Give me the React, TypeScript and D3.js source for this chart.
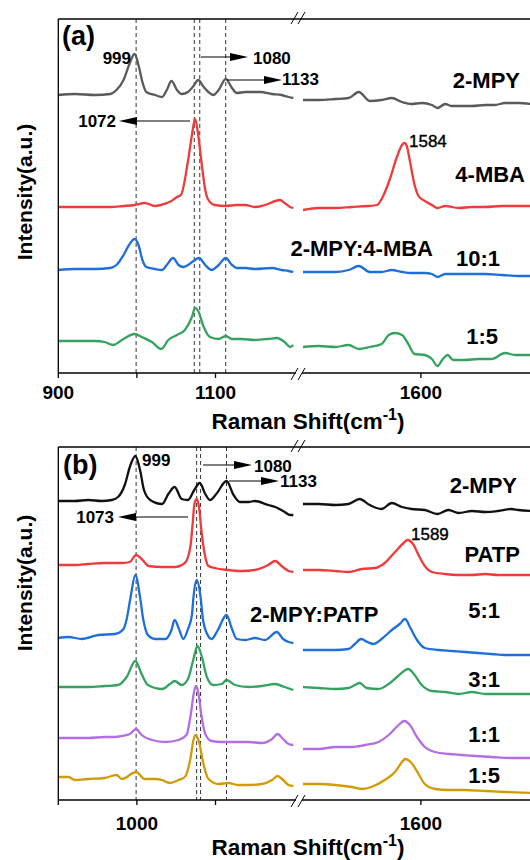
import React from 'react';
import * as d3 from 'd3';

type Pt = [number, number];

// ---------- axis ----------
const tickVals = [900, 1000, 1100, 1600];
const tickLabelsA = ['900', '', '1100', '1600'];
const tickLabelsB = ['', '1000', '', '1600'];

// ---------- panel (a) ----------
const a_mpy_L: Pt[] = [[900,0],[921,1],[947,0],[966,1],[974,5],[983,15],[990,30],[997,41],[1002,30],[1007,13],[1012,3],[1023,0],[1032,-2],[1038,5],[1044,14],[1051,5],[1057,1],[1065,3],[1072,9],[1078,15],[1085,8],[1091,3],[1097,0],[1104,5],[1113,16],[1121,7],[1127,2],[1138,3],[1150,3],[1157,3],[1172,1],[1184,0],[1193,-2],[1199,-3]];
const a_mpy_R: Pt[] = [[1450,-5],[1470,-5],[1491,-4],[1508,-3],[1521,3],[1535,-6],[1550,-5],[1563,-3],[1576,-7],[1588,-9],[1601,-8],[1614,-10],[1621,-13],[1631,-9],[1639,-11],[1652,-11],[1665,-11],[1682,-10],[1694,-10],[1707,-8],[1724,-8],[1740,-9]];
const a_mba_L: Pt[] = [[900,0],[921,0],[947,0],[966,0],[983,1],[997,2],[1010,4],[1023,1],[1038,4],[1044,6],[1051,10],[1056,12],[1065,46],[1070,72],[1074,88],[1078,72],[1082,46],[1087,17],[1091,7],[1099,2],[1113,1],[1127,2],[1138,2],[1150,0],[1163,2],[1182,7],[1188,4],[1195,0],[1199,-1]];
const a_mba_R: Pt[] = [[1450,-3],[1470,-1],[1491,-1],[1512,0],[1533,1],[1544,2],[1552,11],[1561,29],[1569,49],[1576,62],[1579,64],[1582,61],[1586,46],[1592,22],[1597,11],[1605,6],[1614,2],[1621,-1],[1631,1],[1648,-1],[1665,0],[1682,0],[1703,1],[1724,1],[1740,1]];
const a_101_L: Pt[] = [[900,0],[921,1],[947,1],[966,2],[974,5],[983,15],[990,25],[997,31],[1002,25],[1007,10],[1012,3],[1023,1],[1032,0],[1038,5],[1046,12],[1053,5],[1059,3],[1065,5],[1072,9],[1079,12],[1087,5],[1095,0],[1104,5],[1113,12],[1121,5],[1127,2],[1138,2],[1150,1],[1172,2],[1184,0],[1193,-1],[1199,-2]];
const a_101_R: Pt[] = [[1450,-2],[1470,-2],[1491,-2],[1508,0],[1521,4],[1535,-2],[1550,-2],[1563,0],[1576,-2],[1588,-3],[1605,-3],[1614,-4],[1621,-7],[1631,-4],[1648,-4],[1665,-4],[1682,-4],[1703,-5],[1724,-6],[1740,-6]];
const a_15_L: Pt[] = [[900,0],[921,0],[947,0],[959,-1],[970,-4],[981,1],[997,7],[1006,4],[1019,-1],[1031,-8],[1040,1],[1051,6],[1061,11],[1070,24],[1074,33],[1078,30],[1085,14],[1093,4],[1104,2],[1113,5],[1121,2],[1133,2],[1150,1],[1167,2],[1178,3],[1188,-1],[1195,-6],[1199,-4]];
const a_15_R: Pt[] = [[1450,-6],[1470,-5],[1491,-6],[1508,-4],[1521,-8],[1535,-6],[1550,-3],[1559,6],[1567,8],[1576,6],[1584,-3],[1592,-13],[1605,-14],[1614,-18],[1621,-25],[1628,-18],[1634,-14],[1641,-19],[1656,-19],[1673,-18],[1690,-18],[1707,-12],[1720,-14],[1740,-14]];

const colorsA = ['#5a5a5a', '#ee3b3b', '#1f6fdb', '#35a35f'];
const offsetsA = [278, 166, 103, 32];
const peakLinesA = [999, 1073, 1080, 1113];

// ---------- panel (b) ----------
const b_mpy_L: Pt[] = [[900,0],[921,0],[938,1],[955,0],[968,1],[976,4],[985,17],[991,34],[998,45],[1004,31],[1009,11],[1017,1],[1032,-3],[1040,7],[1048,14],[1057,2],[1065,1],[1073,11],[1080,18],[1087,7],[1093,1],[1101,7],[1114,20],[1123,6],[1131,-1],[1142,-1],[1150,0],[1167,-4],[1176,-6],[1188,-11],[1195,-14],[1199,-14]];
const b_mpy_R: Pt[] = [[1450,-3],[1470,-3],[1491,-4],[1508,-3],[1522,2],[1535,-4],[1550,-8],[1563,-2],[1576,-6],[1588,-8],[1605,-9],[1621,-13],[1635,-9],[1648,-12],[1665,-10],[1682,-11],[1698,-10],[1715,-8],[1724,-9],[1740,-10]];
const b_patp_L: Pt[] = [[900,0],[921,0],[938,1],[959,2],[981,2],[991,3],[999,10],[1006,6],[1015,-1],[1032,-2],[1048,-2],[1061,2],[1068,18],[1071,42],[1073,60],[1076,66],[1079,58],[1082,35],[1086,12],[1091,-1],[1099,-3],[1116,-5],[1133,-6],[1150,-5],[1167,0],[1176,4],[1184,-1],[1193,-6],[1199,-7]];
const b_patp_R: Pt[] = [[1450,-5],[1470,-5],[1491,-6],[1508,-7],[1525,-4],[1542,-3],[1554,2],[1567,13],[1578,22],[1583,25],[1590,21],[1597,10],[1605,-1],[1614,-7],[1631,-9],[1648,-10],[1665,-10],[1682,-9],[1698,-10],[1724,-10],[1740,-10]];
const b_51_L: Pt[] = [[900,0],[913,1],[930,-1],[951,3],[972,4],[983,9],[987,19],[992,41],[998,63],[1004,41],[1008,19],[1014,3],[1023,-1],[1036,-1],[1044,8],[1048,18],[1054,8],[1059,-1],[1065,9],[1070,23],[1072,41],[1076,58],[1081,41],[1084,19],[1090,3],[1095,-1],[1103,8],[1114,23],[1121,9],[1127,-1],[1138,-2],[1150,0],[1163,-2],[1178,6],[1186,-1],[1193,-4],[1199,-5]];
const b_51_R: Pt[] = [[1450,-12],[1470,-12],[1491,-12],[1508,-11],[1516,-6],[1524,-1],[1532,-4],[1540,-6],[1550,-1],[1563,8],[1573,14],[1580,19],[1586,11],[1595,-2],[1605,-10],[1622,-12],[1639,-13],[1656,-14],[1673,-15],[1690,-16],[1707,-17],[1724,-17],[1740,-17]];
const b_31_L: Pt[] = [[900,0],[921,0],[938,0],[959,1],[976,2],[987,10],[998,26],[1006,13],[1014,2],[1032,-2],[1042,3],[1048,6],[1057,2],[1065,8],[1072,28],[1077,41],[1082,32],[1089,10],[1097,2],[1108,3],[1114,7],[1125,2],[1142,0],[1159,1],[1176,3],[1188,0],[1199,-3]];
const b_31_R: Pt[] = [[1450,0],[1470,-1],[1491,-2],[1508,-1],[1516,2],[1522,4],[1531,-1],[1546,-2],[1559,3],[1571,11],[1584,18],[1592,12],[1601,2],[1614,-4],[1631,-5],[1648,-7],[1665,-5],[1682,-7],[1698,-7],[1724,-7],[1740,-7]];
const b_11_L: Pt[] = [[900,0],[921,0],[938,0],[959,1],[972,1],[981,2],[991,4],[999,9],[1006,3],[1019,-2],[1036,-4],[1053,-2],[1063,3],[1069,26],[1072,43],[1075,52],[1078,46],[1082,23],[1087,4],[1095,-3],[1108,-4],[1125,-4],[1142,-4],[1159,-5],[1172,-1],[1179,4],[1186,-1],[1193,-6],[1199,-7]];
const b_11_R: Pt[] = [[1450,-11],[1470,-11],[1491,-9],[1512,-9],[1529,-7],[1546,-4],[1559,3],[1569,11],[1579,17],[1586,13],[1595,1],[1605,-9],[1618,-14],[1635,-16],[1652,-17],[1669,-18],[1690,-19],[1715,-20],[1740,-20]];
const b_15_L: Pt[] = [[900,0],[913,0],[921,-3],[938,-2],[959,-1],[974,2],[981,-2],[999,5],[1010,-2],[1023,-2],[1032,-3],[1042,-6],[1053,-3],[1061,0],[1068,18],[1072,37],[1075,42],[1079,35],[1085,12],[1091,-2],[1104,-7],[1116,-6],[1129,-8],[1142,-8],[1159,-7],[1172,-3],[1179,1],[1186,-3],[1193,-8],[1199,-9]];
const b_15_R: Pt[] = [[1450,-7],[1470,-7],[1491,-8],[1512,-10],[1525,-12],[1537,-10],[1554,-3],[1567,5],[1576,15],[1580,18],[1587,15],[1597,3],[1605,-7],[1618,-12],[1635,-13],[1656,-13],[1682,-14],[1707,-15],[1740,-16]];

const colorsB = ['#111111', '#ee3b3b', '#1f6fdb', '#35a35f', '#b26fe3', '#d09b05'];
const offsetsB = [299, 235, 162, 113, 62, 23];
const peakLinesB = [999, 1076, 1081, 1114];

const FONT = '"Liberation Sans", Arial, sans-serif';

// broken x axis: 900-1200 | 1450-1750
const xL = d3.scaleLinear().domain([900, 1200]).range([58.3, 294.1]);
const xR = d3.scaleLinear().domain([1450, 1750]).range([303, 538.8]);
const xs = (v: number) => (v < 1300 ? xL(v) : xR(v));

function Arrow({ x1, x2, y }: { x1: number; x2: number; y: number }) {
  const dir = Math.sign(x2 - x1);
  const hl = 18;
  return (
    <g>
      <line x1={x1} x2={x2 - dir * hl} y1={y} y2={y} stroke="#000" strokeWidth={1} />
      <path d={`M${x2},${y} L${x2 - dir * hl},${y - 4} L${x2 - dir * hl},${y + 4} Z`} fill="#000" />
    </g>
  );
}

function BreakMark({ x, y }: { x: number; y: number }) {
  return (
    <g stroke="#000" strokeWidth={1}>
      <line x1={x - 4} y1={y + 6} x2={x + 3} y2={y - 6} />
      <line x1={x + 3} y1={y + 6} x2={x + 10} y2={y - 6} />
    </g>
  );
}

type PanelProps = {
  top: number;
  bottom: number;
  series: { L: Pt[]; R: Pt[] }[];
  colors: string[];
  offsets: number[];
  peakLines: number[];
  tickLabels: string[];
  tickY: number;
  titleY: number;
  yTitleCY: number;
};

function Panel(p: PanelProps) {
  const y = d3.scaleLinear().domain([0, p.bottom - p.top]).range([p.bottom, p.top]);
  return (
    <g>
      {p.peakLines.map((v, i) => (
        <line key={i} x1={xs(v)} x2={xs(v)} y1={p.top} y2={p.bottom} stroke="#333" strokeWidth={1} strokeDasharray="4,3" />
      ))}
      {p.series.map((s, i) => {
        const line = d3
          .line<Pt>()
          .x((d) => xs(d[0]))
          .y((d) => y(p.offsets[i] + d[1]))
          .curve(d3.curveMonotoneX);
        return (
          <g key={i} fill="none" stroke={p.colors[i]} strokeWidth={2.3} strokeLinejoin="round">
            <path d={line(s.L) || ''} />
            <path d={line(s.R) || ''} />
          </g>
        );
      })}
      {/* frame */}
      <line x1={58.3} x2={530} y1={p.top} y2={p.top} stroke="#000" strokeWidth={1.3} />
      <line x1={58.3} x2={58.3} y1={p.top} y2={p.bottom} stroke="#000" strokeWidth={1.3} />
      <line x1={58.3} x2={296} y1={p.bottom} y2={p.bottom} stroke="#000" strokeWidth={1.3} />
      <line x1={302} x2={530} y1={p.bottom} y2={p.bottom} stroke="#000" strokeWidth={1.3} />
      <BreakMark x={295} y={p.top - 1} />
      <BreakMark x={295} y={p.bottom + 1} />
      {tickVals.map((v, i) => (
        <g key={v}>
          <line x1={xs(v)} x2={xs(v)} y1={p.bottom} y2={p.bottom + 5} stroke="#000" strokeWidth={1.3} />
          {p.tickLabels[i] && (
            <text x={xs(v)} y={p.tickY} textAnchor="middle" fontSize={19} fontWeight="bold">
              {p.tickLabels[i]}
            </text>
          )}
        </g>
      ))}
      <text x={308} y={p.titleY} textAnchor="middle" fontSize={22.5} fontWeight="bold">
        <tspan>Raman Shift(cm</tspan>
        <tspan dy={-9} fontSize={16}>-1</tspan>
        <tspan dy={9}>)</tspan>
      </text>
      <text
        transform={`translate(32,${p.yTitleCY}) rotate(-90)`}
        textAnchor="middle"
        fontSize={21}
        fontWeight="bold"
      >
        Intensity(a.u.)
      </text>
    </g>
  );
}

export default function App() {
  const seriesA = [
    { L: a_mpy_L, R: a_mpy_R },
    { L: a_mba_L, R: a_mba_R },
    { L: a_101_L, R: a_101_R },
    { L: a_15_L, R: a_15_R },
  ];
  const seriesB = [
    { L: b_mpy_L, R: b_mpy_R },
    { L: b_patp_L, R: b_patp_R },
    { L: b_51_L, R: b_51_R },
    { L: b_31_L, R: b_31_R },
    { L: b_11_L, R: b_11_R },
    { L: b_15_L, R: b_15_R },
  ];
  return (
    <svg width={530} height={860} style={{ position: 'absolute', left: 0, top: 0, background: '#fff' }} fontFamily={FONT}>
      <Panel top={19} bottom={373} series={seriesA} colors={colorsA} offsets={offsetsA} peakLines={peakLinesA}
        tickLabels={tickLabelsA} tickY={399} titleY={429} yTitleCY={192} />
      <Panel top={447} bottom={800} series={seriesB} colors={colorsB} offsets={offsetsB} peakLines={peakLinesB}
        tickLabels={tickLabelsB} tickY={830} titleY={855} yTitleCY={583} />

      {/* panel (a) annotations */}
      <g fontWeight="bold" fontSize={17}>
        <text x={62} y={45} fontSize={27}>(a)</text>
        <text x={131} y={64} textAnchor="end">999</text>
        <Arrow x1={201} x2={248} y={57} />
        <text x={253} y={64}>1080</text>
        <Arrow x1={227} x2={282} y={80} />
        <text x={282} y={85}>1133</text>
        <Arrow x1={190} x2={119} y={121} />
        <text x={116} y={127} textAnchor="end">1072</text>
        <text x={409} y={147} fontWeight="normal" stroke="#000" strokeWidth={0.4}>1584</text>
        <g fontSize={22}>
          <text x={520} y={88} textAnchor="end">2-MPY</text>
          <text x={525} y={182} textAnchor="end">4-MBA</text>
          <text x={433} y={256} textAnchor="end">2-MPY:4-MBA</text>
          <text x={500} y={266} textAnchor="end">10:1</text>
          <text x={498} y={344} textAnchor="end">1:5</text>
        </g>
      </g>

      {/* panel (b) annotations */}
      <g fontWeight="bold" fontSize={17}>
        <text x={63} y={474} fontSize={27}>(b)</text>
        <text x={142} y={466}>999</text>
        <Arrow x1={203} x2={252} y={465} />
        <text x={254} y={472}>1080</text>
        <Arrow x1={229} x2={279} y={481} />
        <text x={280} y={487}>1133</text>
        <Arrow x1={188} x2={118} y={517} />
        <text x={114} y={523} textAnchor="end">1073</text>
        <text x={411} y={540} fontWeight="normal" stroke="#000" strokeWidth={0.4}>1589</text>
        <g fontSize={22}>
          <text x={517} y={493} textAnchor="end">2-MPY</text>
          <text x={520} y={562} textAnchor="end">PATP</text>
          <text x={250} y={622}>2-MPY:PATP</text>
          <text x={500} y={618} textAnchor="end">5:1</text>
          <text x={500} y={687} textAnchor="end">3:1</text>
          <text x={500} y={742} textAnchor="end">1:1</text>
          <text x={500} y={783} textAnchor="end">1:5</text>
        </g>
      </g>
    </svg>
  );
}
